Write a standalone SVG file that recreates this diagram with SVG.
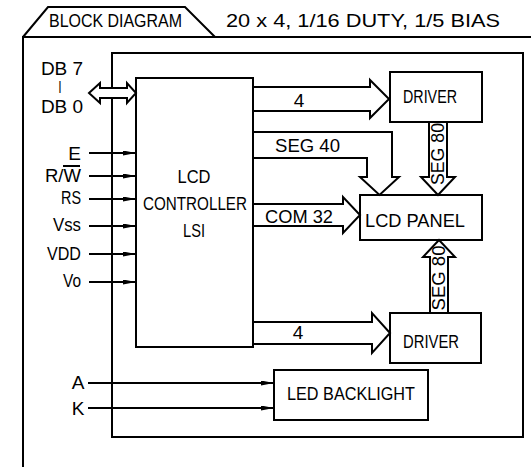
<svg xmlns="http://www.w3.org/2000/svg" width="531" height="467" viewBox="0 0 531 467">
<style>
.ln{stroke:#000;stroke-width:2;fill:none}
.bx{fill:#fff;stroke:#000;stroke-width:2}
.bus{fill:#fff;stroke:#000;stroke-width:2;stroke-linejoin:miter}
text{font-family:"Liberation Sans",Arial,sans-serif;font-size:19px;fill:#000}
.c{text-anchor:middle}
.e{text-anchor:end}
</style>
<defs>
<marker id="ah" markerUnits="userSpaceOnUse" markerWidth="13" markerHeight="5" refX="13" refY="2.5" orient="auto">
<path d="M0,0 L13,2.5 L0,5 Z" fill="#000"/>
</marker>
</defs>
<rect width="531" height="467" fill="#fff"/>
<g id="frame">
<polyline class="ln" points="23,467 23,37 531,37"/>
<polyline class="ln" points="23,37 48,7 185,7 215,37"/>
<text x="49" y="27" textLength="133" lengthAdjust="spacingAndGlyphs" font-size="18">BLOCK DIAGRAM</text>
<text x="226" y="27" textLength="274" lengthAdjust="spacingAndGlyphs" font-size="18">20 x 4, 1/16 DUTY, 1/5 BIAS</text>
<rect class="ln" x="112" y="53" width="411" height="384"/>
</g>
<g id="controller">
<rect class="bx" x="136" y="78" width="117" height="269"/>
<text x="194" y="183" class="c" textLength="33" lengthAdjust="spacingAndGlyphs">LCD</text>
<text x="195" y="210" class="c" textLength="104" lengthAdjust="spacingAndGlyphs">CONTROLLER</text>
<text x="194" y="237" class="c" textLength="22" lengthAdjust="spacingAndGlyphs">LSI</text>
</g>
<g id="driver-top">
<rect class="bx" x="390" y="72" width="92" height="50"/>
<text x="430" y="103" class="c" textLength="54" lengthAdjust="spacingAndGlyphs">DRIVER</text>
</g>
<g id="lcd-panel">
<rect class="bx" x="360" y="195" width="122" height="45"/>
<text x="415" y="227" class="c" textLength="100" lengthAdjust="spacingAndGlyphs">LCD PANEL</text>
</g>
<g id="driver-bottom">
<rect class="bx" x="390" y="313" width="91" height="50"/>
<text x="431" y="348" class="c" textLength="56" lengthAdjust="spacingAndGlyphs">DRIVER</text>
</g>
<g id="led-backlight">
<rect class="bx" x="274" y="370" width="154" height="50"/>
<text x="351" y="400" class="c" textLength="128" lengthAdjust="spacingAndGlyphs">LED BACKLIGHT</text>
</g>
<g id="labels">
<text class="c"><tspan x="62" y="75">DB 7</tspan><tspan x="60" y="90" font-size="13">|</tspan><tspan x="62" y="113">DB 0</tspan></text>
<text x="81" y="160" class="e" font-size="20">E</text>
<text x="81" y="182" class="e" textLength="36" lengthAdjust="spacingAndGlyphs" font-size="20">R/W</text>
<line class="ln" x1="63" y1="166" x2="80" y2="166" stroke-width="1.5"/>
<text x="81" y="204" class="e" textLength="20" lengthAdjust="spacingAndGlyphs">RS</text>
<text x="81" y="231" class="e" textLength="28" lengthAdjust="spacingAndGlyphs">Vss</text>
<text x="81" y="260" class="e" textLength="34" lengthAdjust="spacingAndGlyphs">VDD</text>
<text x="81" y="287" class="e" textLength="18" lengthAdjust="spacingAndGlyphs">Vo</text>
<text x="78" y="389" class="c">A</text>
<text x="78" y="415" class="c">K</text>
</g>
<g id="connectors">
<path class="bus" d="M89,93 L100,83 V88 H127 V83 L136,93 L127,103 V98 H100 V103 Z"/>
<line class="ln" x1="89" y1="153" x2="136" y2="153" marker-end="url(#ah)"/>
<line class="ln" x1="89" y1="176" x2="136" y2="176" marker-end="url(#ah)"/>
<line class="ln" x1="89" y1="199" x2="136" y2="199" marker-end="url(#ah)"/>
<line class="ln" x1="89" y1="226" x2="136" y2="226" marker-end="url(#ah)"/>
<line class="ln" x1="89" y1="254" x2="136" y2="254" marker-end="url(#ah)"/>
<line class="ln" x1="89" y1="282" x2="136" y2="282" marker-end="url(#ah)"/>
<line class="ln" x1="88" y1="383" x2="274" y2="383" marker-end="url(#ah)"/>
<line class="ln" x1="88" y1="408" x2="274" y2="408" marker-end="url(#ah)"/>
<path class="ln" d="M253,87 H370 V80 L389,99 L370,118 V111 H253"/>
<text x="299" y="107" class="c">4</text>
<path class="ln" d="M253,132 H392 V177 H399 L379.5,195 L360,177 H367 V158 H253"/>
<text x="275" y="152" textLength="65" lengthAdjust="spacingAndGlyphs">SEG 40</text>
<path class="ln" d="M253,204 H343 V197 L360,215 L343,233 V226 H253"/>
<text x="265" y="223" textLength="68" lengthAdjust="spacingAndGlyphs">COM 32</text>
<path class="ln" d="M253,322 H372 V313 L390,333 L372,353 V344 H253"/>
<text x="298" y="339" class="c">4</text>
<path class="ln" d="M429,122 V177 H421 L438,195 L455,177 H447 V122"/>
<text transform="translate(444,154) rotate(-90)" class="c" textLength="62" lengthAdjust="spacingAndGlyphs" font-size="17">SEG 80</text>
<path class="ln" d="M430,313 V257 H423 L439,240 L455,257 H448 V313"/>
<text transform="translate(445,278) rotate(-90)" class="c" textLength="65" lengthAdjust="spacingAndGlyphs" font-size="17">SEG 80</text>
</g>
</svg>
